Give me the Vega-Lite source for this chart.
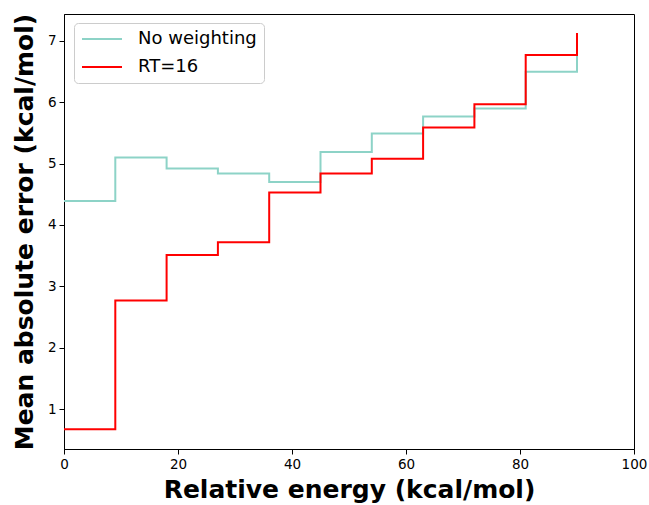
{
  "$schema": "https://vega.github.io/schema/vega-lite/v6.json",
  "width": 570,
  "height": 435,
  "autosize": {"type": "none"},
  "padding": {"left": 64, "top": 14, "right": 15, "bottom": 56},
  "background": "white",
  "config": {
    "font": "DejaVu Sans",
    "view": {"stroke": "black", "strokeWidth": 1},
    "axis": {
      "grid": false,
      "domainColor": "black",
      "tickColor": "black",
      "tickSize": 5,
      "labelColor": "black",
      "labelFont": "DejaVu Sans",
      "labelFontSize": 13.5,
      "labelPadding": 3,
      "labelFlush": false,
      "titleFont": "DejaVu Sans",
      "titleFontSize": 25,
      "titleFontWeight": "bold",
      "titleColor": "black"
    }
  },
  "data": {
    "values": [
      {"energy": 0, "mae": 4.39, "series": "No weighting"},
      {"energy": 9, "mae": 5.10, "series": "No weighting"},
      {"energy": 18, "mae": 4.92, "series": "No weighting"},
      {"energy": 27, "mae": 4.84, "series": "No weighting"},
      {"energy": 36, "mae": 4.70, "series": "No weighting"},
      {"energy": 45, "mae": 5.19, "series": "No weighting"},
      {"energy": 54, "mae": 5.49, "series": "No weighting"},
      {"energy": 63, "mae": 5.77, "series": "No weighting"},
      {"energy": 72, "mae": 5.90, "series": "No weighting"},
      {"energy": 81, "mae": 6.50, "series": "No weighting"},
      {"energy": 90, "mae": 6.78, "series": "No weighting"},
      {"energy": 0, "mae": 0.67, "series": "RT=16"},
      {"energy": 9, "mae": 2.77, "series": "RT=16"},
      {"energy": 18, "mae": 3.51, "series": "RT=16"},
      {"energy": 27, "mae": 3.72, "series": "RT=16"},
      {"energy": 36, "mae": 4.53, "series": "RT=16"},
      {"energy": 45, "mae": 4.84, "series": "RT=16"},
      {"energy": 54, "mae": 5.08, "series": "RT=16"},
      {"energy": 63, "mae": 5.59, "series": "RT=16"},
      {"energy": 72, "mae": 5.97, "series": "RT=16"},
      {"energy": 81, "mae": 6.77, "series": "RT=16"},
      {"energy": 90, "mae": 7.13, "series": "RT=16"}
    ]
  },
  "mark": {"type": "line", "interpolate": "step-after", "strokeWidth": 2},
  "encoding": {
    "x": {
      "field": "energy",
      "type": "quantitative",
      "scale": {"domain": [0, 100], "nice": false},
      "axis": {"values": [0, 20, 40, 60, 80, 100], "title": "Relative energy (kcal/mol)", "titlePadding": 7}
    },
    "y": {
      "field": "mae",
      "type": "quantitative",
      "scale": {"domain": [0.348, 7.44], "nice": false, "zero": false},
      "axis": {"values": [1, 2, 3, 4, 5, 6, 7], "title": "Mean absolute error (kcal/mol)", "titlePadding": 10}
    },
    "color": {
      "field": "series",
      "type": "nominal",
      "scale": {"domain": ["No weighting", "RT=16"], "range": ["#8dd3c7", "#ff0000"]},
      "legend": {
        "title": null,
        "orient": "none",
        "legendX": 10,
        "legendY": 9,
        "symbolType": "stroke",
        "symbolSize": 1600,
        "symbolStrokeWidth": 2,
        "clipHeight": 18,
        "labelFontSize": 18,
        "labelFont": "DejaVu Sans",
        "labelColor": "black",
        "labelOffset": 15,
        "rowPadding": 10,
        "padding": 7,
        "strokeColor": "#cccccc",
        "fillColor": "white",
        "cornerRadius": 4
      }
    }
  }
}
